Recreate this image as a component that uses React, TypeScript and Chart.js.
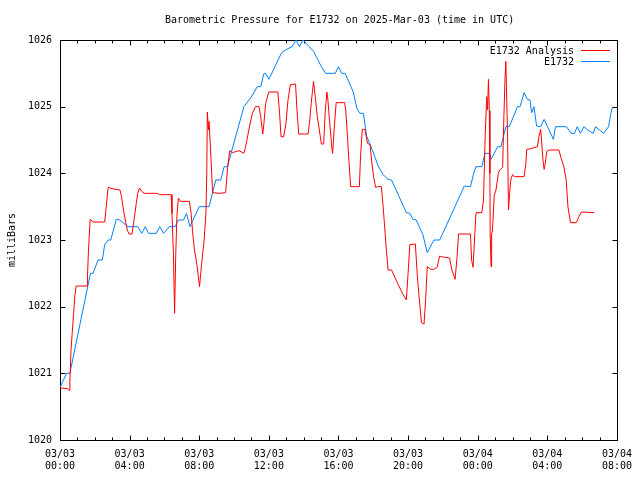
import { useEffect, useRef } from 'react';
import { Chart, registerables } from 'chart.js';

Chart.register(...registerables);

const FONT = '"DejaVu Sans Mono", "Liberation Mono", monospace';

const chartTitle = 'Barometric Pressure for E1732 on 2025-Mar-03 (time in UTC)';
const yAxisTitle = 'milliBars';
const seriesNames = ['E1732 Analysis', 'E1732'];
const seriesColors = ['#ff0000', '#0080ff'];

// x ticks: minutes since 2025-03-03 00:00 UTC
const xTickValues = [0, 240, 480, 720, 960, 1200, 1440, 1680, 1920];
const xTickDates = ['03/03', '03/03', '03/03', '03/03', '03/03', '03/03', '03/04', '03/04', '03/04'];
const xTickTimes = ['00:00', '04:00', '08:00', '12:00', '16:00', '20:00', '00:00', '04:00', '08:00'];
const yTickValues = [1020, 1021, 1022, 1023, 1024, 1025, 1026];

// E1732 Analysis (red)
const redMinutes = [
  0, 26, 32, 34, 38, 42, 47, 51, 56, 94,
  95, 98, 102, 104, 114, 154, 160, 166, 179, 207,
  212, 217, 225, 232, 238, 248, 254, 263, 268, 274,
  282, 291, 335, 343, 383, 386, 391, 395, 399, 403,
  408, 415, 446, 452, 457, 463, 472, 481, 488, 497,
  503, 506, 508, 512, 514, 521, 526, 549, 571, 577,
  585, 594, 617, 634, 640, 651, 663, 674, 686, 692,
  699, 703, 709, 720, 751, 757, 762, 771, 779, 786,
  794, 812, 817, 823, 855, 860, 866, 874, 880, 887,
  894, 901, 909, 914, 920, 923, 928, 934, 937, 940,
  945, 952, 981, 985, 991, 997, 1002, 1032, 1036, 1042,
  1051, 1060, 1069, 1074, 1081, 1088, 1097, 1108, 1114, 1120,
  1126, 1131, 1143, 1166, 1183, 1194, 1200, 1206, 1225, 1232,
  1240, 1246, 1255, 1261, 1266, 1278, 1289, 1300, 1309, 1314,
  1343, 1351, 1362, 1369, 1374, 1415, 1419, 1424, 1429, 1434,
  1454, 1460, 1466, 1471, 1474, 1477, 1480, 1482, 1483, 1486,
  1488, 1491, 1497, 1503, 1511, 1516, 1526, 1529, 1534, 1537,
  1539, 1543, 1546, 1550, 1554, 1560, 1566, 1600, 1606, 1609,
  1623, 1646, 1651, 1657, 1660, 1665, 1669, 1673, 1678, 1686,
  1720, 1728, 1737, 1745, 1751, 1760, 1780, 1789, 1798, 1842,
];
const redValues = [
  1020.78, 1020.77, 1020.74, 1020.88, 1021.35, 1021.6, 1021.9, 1022.16, 1022.31, 1022.31,
  1022.48, 1022.83, 1023.15, 1023.31, 1023.27, 1023.27, 1023.53, 1023.79, 1023.77, 1023.75,
  1023.65, 1023.5, 1023.3, 1023.15, 1023.09, 1023.09, 1023.26, 1023.55, 1023.7, 1023.78,
  1023.73, 1023.7, 1023.7, 1023.68, 1023.68, 1023.4, 1022.8, 1021.9, 1022.78, 1023.35,
  1023.63, 1023.58, 1023.58, 1023.4, 1023.13, 1022.87, 1022.63, 1022.3, 1022.63, 1023.0,
  1023.4, 1024.0, 1024.92, 1024.65, 1024.78, 1024.18, 1023.71, 1023.7, 1023.71, 1024.05,
  1024.34, 1024.31, 1024.34, 1024.3, 1024.4, 1024.65, 1024.9, 1025.0, 1025.0, 1024.85,
  1024.59, 1024.75, 1025.05, 1025.22, 1025.22, 1024.9, 1024.55, 1024.55, 1024.75, 1025.1,
  1025.33, 1025.34, 1024.95, 1024.59, 1024.59, 1024.75, 1025.05, 1025.38, 1025.15, 1024.85,
  1024.65, 1024.44, 1024.44, 1024.9, 1025.22, 1025.13, 1024.85, 1024.55, 1024.38, 1024.3,
  1024.65, 1025.06, 1025.06, 1024.95, 1024.55, 1024.12, 1023.8, 1023.8, 1024.25, 1024.66,
  1024.66, 1024.45, 1024.43, 1024.2, 1023.95, 1023.79, 1023.8, 1023.8, 1023.5, 1023.15,
  1022.8, 1022.55, 1022.55, 1022.33, 1022.18, 1022.1, 1022.5, 1022.93, 1022.94, 1022.45,
  1022.05, 1021.76, 1021.74, 1022.15, 1022.6, 1022.56, 1022.56, 1022.59, 1022.76, 1022.75,
  1022.73, 1022.55, 1022.41, 1022.75, 1023.09, 1023.09, 1022.7, 1022.59, 1023.0, 1023.41,
  1023.41, 1023.6, 1024.6, 1025.15, 1024.95, 1025.41, 1024.94, 1024.0, 1023.1, 1022.6,
  1023.09, 1023.15, 1023.67, 1023.75, 1024.0, 1024.05, 1024.09, 1024.65, 1025.41, 1025.68,
  1025.3, 1024.55, 1023.45, 1023.7, 1023.9, 1023.98, 1023.95, 1023.95, 1024.15, 1024.36,
  1024.37, 1024.4, 1024.55, 1024.66, 1024.5, 1024.2, 1024.06, 1024.15, 1024.33, 1024.35,
  1024.35, 1024.22, 1024.1, 1023.9, 1023.5, 1023.26, 1023.26, 1023.35, 1023.42, 1023.41,
];

// E1732 (blue)
const blueMinutes = [
  0, 23, 34, 105, 114, 131, 146, 154, 166, 175,
  194, 206, 234, 268, 282, 294, 305, 332, 344, 357,
  377, 397, 408, 426, 436, 448, 480, 514, 537, 554,
  566, 577, 634, 657, 680, 692, 703, 709, 720, 764,
  777, 800, 814, 825, 838, 874, 901, 916, 949, 960,
  971, 983, 1011, 1023, 1034, 1046, 1057, 1074, 1097, 1114,
  1131, 1143, 1194, 1206, 1217, 1228, 1251, 1266, 1289, 1309,
  1394, 1415, 1426, 1434, 1454, 1465, 1480, 1486, 1509, 1520,
  1537, 1549, 1577, 1586, 1600, 1611, 1620, 1626, 1634, 1643,
  1657, 1669, 1701, 1708, 1746, 1762, 1774, 1783, 1794, 1806,
  1819, 1838, 1846, 1874, 1891, 1899, 1905,
];
const blueValues = [
  1020.79, 1021.0, 1021.0, 1022.5, 1022.5, 1022.7, 1022.7, 1022.93, 1023.0, 1023.0,
  1023.31, 1023.3, 1023.2, 1023.2, 1023.1, 1023.2, 1023.1, 1023.1, 1023.2, 1023.1,
  1023.2, 1023.2, 1023.3, 1023.3, 1023.4, 1023.2, 1023.5, 1023.5, 1023.9, 1023.9,
  1024.1, 1024.1, 1025.0, 1025.13, 1025.3, 1025.3, 1025.5, 1025.5, 1025.41, 1025.81,
  1025.85, 1025.9, 1026.0, 1025.9, 1026.0, 1025.83, 1025.6, 1025.5, 1025.5, 1025.6,
  1025.5, 1025.5, 1025.22, 1024.98, 1024.9, 1024.9, 1024.56, 1024.38, 1024.11, 1023.98,
  1023.91, 1023.9, 1023.41, 1023.4, 1023.31, 1023.3, 1023.08, 1022.81, 1023.0, 1023.0,
  1023.81, 1023.8, 1024.0, 1024.1, 1024.1, 1024.3, 1024.3, 1024.21, 1024.4, 1024.4,
  1024.7, 1024.7, 1025.0, 1025.0, 1025.21, 1025.11, 1025.1, 1024.91, 1025.0, 1024.71,
  1024.7, 1024.81, 1024.51, 1024.7, 1024.7, 1024.6, 1024.6, 1024.7, 1024.6, 1024.7,
  1024.65, 1024.6, 1024.7, 1024.6, 1024.7, 1024.9, 1025.0,
];

const gnuplotFrame = {
  id: 'gnuplotFrame',
  beforeDatasetsDraw(chart: any) {
    const { ctx, chartArea } = chart;
    const xs = chart.scales.x;
    const ys = chart.scales.y;
    const L = Math.round(chartArea.left) + 0.5;
    const R = Math.round(chartArea.right) + 0.5;
    const T = Math.round(chartArea.top) + 0.5;
    const B = Math.round(chartArea.bottom) + 0.5;
    ctx.save();
    ctx.strokeStyle = '#000';
    ctx.lineWidth = 1;
    ctx.beginPath();
    // x ticks every hour, major every 4 hours
    for (let m = 60; m < 1920; m += 60) {
      const px = Math.round(xs.getPixelForValue(m)) + 0.5;
      const len = m % 240 === 0 ? 5 : 3;
      ctx.moveTo(px, B);
      ctx.lineTo(px, B - len);
      ctx.moveTo(px, T);
      ctx.lineTo(px, T + len);
    }
    for (const v of yTickValues) {
      if (v === 1020 || v === 1026) continue;
      const py = Math.round(ys.getPixelForValue(v)) + 0.5;
      ctx.moveTo(L, py);
      ctx.lineTo(L + 5, py);
      ctx.moveTo(R, py);
      ctx.lineTo(R - 5, py);
    }
    ctx.stroke();
    ctx.strokeRect(L, T, R - L, B - T);
    ctx.restore();
  },
  afterDraw(chart: any) {
    const { ctx } = chart;
    ctx.save();
    ctx.fillStyle = '#000';
    ctx.font = '10px ' + FONT;
    ctx.textBaseline = 'middle';
    ctx.textAlign = 'left';
    ctx.fillText(chartTitle, 165, 20);
    ctx.textAlign = 'right';
    const legendY = [51, 62];
    seriesNames.forEach((name, i) => {
      ctx.fillStyle = '#000';
      ctx.fillText(name, 574, legendY[i]);
      ctx.strokeStyle = seriesColors[i];
      ctx.lineWidth = 1;
      ctx.beginPath();
      ctx.moveTo(581, legendY[i] - 0.5);
      ctx.lineTo(610, legendY[i] - 0.5);
      ctx.stroke();
    });
    ctx.restore();
  },
};

export default function App() {
  const ref = useRef<HTMLCanvasElement>(null);
  useEffect(() => {
    const canvas = ref.current;
    if (!canvas) return;
    const chart = new Chart(canvas, {
      type: 'line',
      data: {
        datasets: [
          {
            label: seriesNames[0],
            data: redMinutes.map((m, i) => ({ x: m, y: redValues[i] })),
            borderColor: seriesColors[0],
            borderWidth: 1,
            pointRadius: 0,
            tension: 0,
            fill: false,
          },
          {
            label: seriesNames[1],
            data: blueMinutes.map((m, i) => ({ x: m, y: blueValues[i] })),
            borderColor: seriesColors[1],
            borderWidth: 1,
            pointRadius: 0,
            tension: 0,
            fill: false,
          },
        ],
      },
      options: {
        responsive: false,
        animation: false,
        devicePixelRatio: 1,
        layout: { padding: { top: 40, right: 20, left: 0, bottom: 0 } },
        plugins: {
          legend: { display: false },
          tooltip: { enabled: false },
          title: { display: false },
        },
        scales: {
          x: {
            type: 'linear',
            min: 0,
            max: 1920,
            afterBuildTicks: (s: any) => {
              s.ticks = xTickValues.map((v) => ({ value: v }));
            },
            afterFit: (s: any) => {
              s.height = 40;
            },
            ticks: {
              autoSkip: false,
              maxRotation: 0,
              padding: 8,
              color: '#000',
              font: { family: FONT, size: 10, lineHeight: 1.25 },
              callback: (v: any) => {
                const i = xTickValues.indexOf(Number(v));
                return i >= 0 ? [xTickDates[i], xTickTimes[i]] : '';
              },
            },
            grid: { display: false, drawTicks: false },
            border: { display: false },
          },
          y: {
            type: 'linear',
            min: 1020,
            max: 1026,
            afterBuildTicks: (s: any) => {
              s.ticks = yTickValues.map((v) => ({ value: v }));
            },
            afterFit: (s: any) => {
              s.width = 60;
            },
            ticks: {
              autoSkip: false,
              padding: 8,
              color: '#000',
              font: { family: FONT, size: 10 },
              callback: (v: any) => String(v),
            },
            title: {
              display: true,
              text: yAxisTitle,
              color: '#000',
              font: { family: FONT, size: 10 },
              padding: { top: 6, bottom: 0 },
            },
            grid: { display: false, drawTicks: false },
            border: { display: false },
          },
        },
      },
      plugins: [gnuplotFrame],
    } as any);
    return () => chart.destroy();
  }, []);
  return (
    <div style={{ position: 'fixed', left: 0, top: 0, width: 640, height: 480, background: '#fff' }}>
      <canvas ref={ref} width={640} height={480} style={{ display: 'block', width: 640, height: 480 }} />
    </div>
  );
}
